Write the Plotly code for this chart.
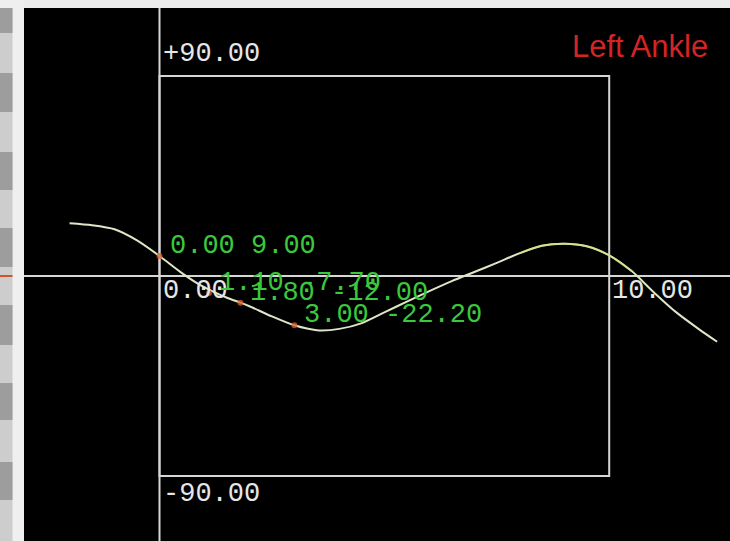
import plotly.graph_objects as go

# Joint angle trace (time, degrees)
time_s = [-2.0, -1.5, -1.0, -0.5, 0.0, 0.5, 0.9, 1.5, 1.8, 2.0, 2.5, 3.0, 3.5,
          4.0, 4.5, 5.0, 5.5, 6.0, 6.5, 7.0, 7.5, 8.0, 8.5, 9.0, 9.5, 10.0, 10.5,
          11.0, 11.5, 12.0, 12.4]
angle_deg = [23.7, 22.8, 21.0, 16.0, 9.0, 1.3, -4.0, -9.8, -12.0, -13.6, -18.2,
             -22.2, -24.4, -23.8, -21.2, -16.4, -11.5, -6.8, -2.3, 1.8, 5.9, 10.2,
             13.6, 14.5, 13.4, 9.3, 2.2, -7.5, -16.5, -24.0, -29.6]

# Picked points with value readouts
pick_t = [0.0, 1.1, 1.8, 3.0]
pick_v = [9.0, -7.7, -12.0, -22.2]

# Window bounds
x_lo, x_hi = 0.0, 10.0
y_lo, y_hi = -90.0, 90.0
chart_title = "Left Ankle"

W, H = 730, 541
X_RANGE = [-3.013, 12.686]
Y_RANGE = [-119.26, 120.6]

LINE = "#d6d6d6"
GREEN = "#3cc83c"
WHITE = "#e6e6e6"
MONO = "Liberation Mono, DejaVu Sans Mono, monospace"

fig = go.Figure()

# Main curve
fig.add_trace(go.Scatter(
    x=time_s, y=angle_deg, mode="lines",
    line=dict(color="#dde6c6", width=2, shape="spline", smoothing=0.7),
    hoverinfo="skip", showlegend=False))

# Yellowish highlight over the crest
crest = [i for i, t in enumerate(time_s) if 8.0 <= t <= 10.5]
fig.add_trace(go.Scatter(
    x=[time_s[i] for i in crest], y=[angle_deg[i] for i in crest], mode="lines",
    line=dict(color="#cfe36a", width=2, shape="spline", smoothing=0.7), opacity=0.6,
    hoverinfo="skip", showlegend=False))

# Picked point markers
fig.add_trace(go.Scatter(
    x=pick_t, y=pick_v, mode="markers",
    marker=dict(color="#d8602a", size=6, opacity=0.75),
    hoverinfo="skip", showlegend=False))

shapes = []

def px_x(p):
    return p / W

def px_y(p):
    return 1 - p / H

# Side ruler strip
shapes.append(dict(type="rect", xref="paper", yref="paper", x0=0, x1=px_x(24), y0=0, y1=1,
                   fillcolor="#efefef", line=dict(width=0), layer="below"))
shapes.append(dict(type="rect", xref="paper", yref="paper", x0=0, x1=px_x(12.5), y0=0, y1=px_y(8),
                   fillcolor="#cdcdcd", line=dict(width=0), layer="below"))
for top, bot in [(8, 33), (73, 112), (152, 190), (228, 267), (305, 345), (383, 420), (462, 500)]:
    shapes.append(dict(type="rect", xref="paper", yref="paper", x0=0, x1=px_x(12.5),
                       y0=px_y(bot), y1=px_y(top), fillcolor="#9d9d9d", line=dict(width=0),
                       layer="below"))
shapes.append(dict(type="line", xref="paper", yref="y", x0=0, x1=px_x(12.5), y0=0, y1=0,
                   line=dict(color="#d8502a", width=2)))

# Window rectangle and zero lines
shapes.append(dict(type="rect", xref="x", yref="y", x0=x_lo, x1=x_hi, y0=y_lo, y1=y_hi,
                   line=dict(color=LINE, width=2), layer="below"))
shapes.append(dict(type="line", xref="x", yref="y domain", x0=0, x1=0, y0=0, y1=1,
                   line=dict(color=LINE, width=2), layer="below"))
shapes.append(dict(type="line", xref="x domain", yref="y", x0=0, x1=1, y0=0, y1=0,
                   line=dict(color=LINE, width=2), layer="below"))

annotations = []

def label(x, y, text, color, dx, dy, size=27, font=MONO):
    annotations.append(dict(x=x, y=y, xref="x", yref="y", text=text, showarrow=False,
                            xanchor="left", yanchor="middle", xshift=dx, yshift=dy,
                            font=dict(family=font, size=size, color=color)))

label(x_lo, y_hi, f"+{y_hi:.2f}", WHITE, 1, 22)
label(x_lo, y_lo, f"{y_lo:.2f}", WHITE, 1, -18)
label(x_lo, 0, f"{x_lo:.2f}", WHITE, 1, -15)
label(x_hi, 0, f"{x_hi:.2f}", WHITE, 1, -15)
for t, v in zip(pick_t, pick_v):
    label(t, v, f"{t:.2f} {v:.2f}", GREEN, 8, 10)

annotations.append(dict(x=1, y=1, xref="paper", yref="paper", text=chart_title,
                        showarrow=False, xanchor="right", yanchor="middle",
                        xshift=-20, yshift=-46,
                        font=dict(family="Liberation Sans, Arial, sans-serif", size=31,
                                  color="#d42424")))

fig.update_layout(
    width=W, height=H, margin=dict(l=0, r=0, t=0, b=0),
    paper_bgcolor="#ececec", plot_bgcolor="#000000",
    xaxis=dict(domain=[24 / W, 1], range=X_RANGE, visible=False, fixedrange=True),
    yaxis=dict(domain=[0, 1 - 8 / H], range=Y_RANGE, visible=False, fixedrange=True),
    shapes=shapes, annotations=annotations, showlegend=False,
)

fig.write_html("out.html")
